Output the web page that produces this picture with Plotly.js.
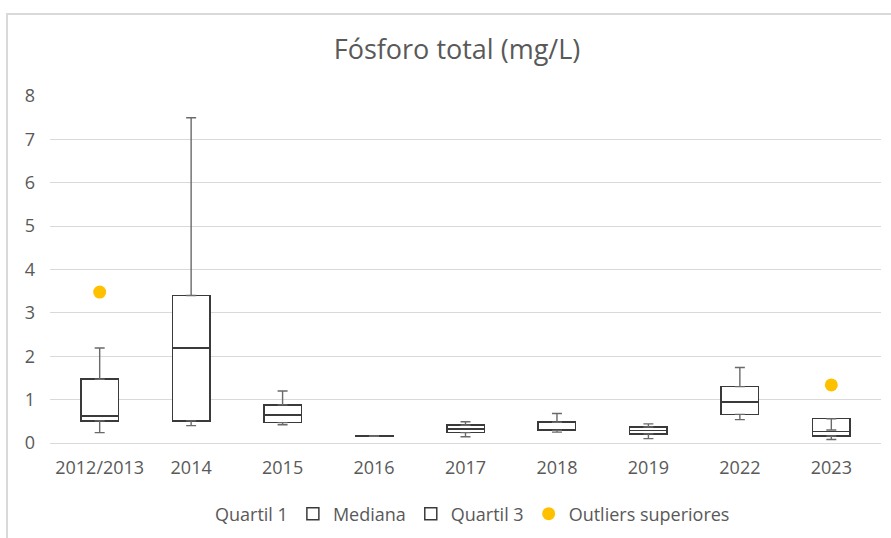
<!DOCTYPE html>
<html>
<head>
<meta charset="utf-8">
<script src="https://cdn.plot.ly/plotly-3.0.1.min.js"></script>
<style>
  html, body { margin: 0; padding: 0; background: #fff; overflow: hidden; }
  #chart { width: 891px; height: 538px; position: absolute; left: 0; top: 0; }
  #frame { position: absolute; left: 6px; top: 13px; width: 1000px; height: 1000px;
           border-left: 2px solid #d9d9d9; border-top: 2px solid #d9d9d9; pointer-events: none; }
</style>
</head>
<body>
<div id="chart"></div>
<div id="frame"></div>
<script>
const categories = ['2012/2013', '2014', '2015', '2016', '2017', '2018', '2019', '2022', '2023'];
const minimo   = [0.24, 0.40, 0.42, 0.155, 0.145, 0.25, 0.10, 0.54, 0.08];
const quartil1 = [0.51, 0.51, 0.47, 0.155, 0.24, 0.29, 0.21, 0.66, 0.16];
const mediana  = [0.62, 2.19, 0.645, 0.16, 0.32, 0.30, 0.29, 0.94, 0.27];
const quartil3 = [1.47, 3.40, 0.88, 0.165, 0.41, 0.48, 0.37, 1.30, 0.56];
const maximo   = [2.19, 7.50, 1.20, 0.165, 0.49, 0.68, 0.44, 1.74, 0.30];
const outliers = [3.48, null, null, null, null, null, null, null, 1.34];

const textColor = '#595959';
const boxLine = {color: '#3a3a3a', width: 1.5};
const font = 'Open Sans, sans-serif';

const medSeg = mediana.map((m, i) => m - quartil1[i]);
const q3Seg = quartil3.map((q, i) => q - mediana[i]);

const traces = [
  {
    type: 'bar', name: 'Quartil 1', x: categories, y: quartil1,
    marker: {color: 'rgba(0,0,0,0)', line: {width: 0}},
    hoverinfo: 'skip'
  },
  {
    type: 'bar', name: 'Mediana', x: categories, y: medSeg,
    marker: {color: '#ffffff', line: boxLine}
  },
  {
    type: 'bar', name: 'Quartil 3', x: categories, y: q3Seg,
    marker: {color: '#ffffff', line: boxLine}
  },
  {
    type: 'scatter', mode: 'markers', x: categories, y: quartil3, showlegend: false,
    marker: {size: 1, color: 'rgba(0,0,0,0)'}, hoverinfo: 'skip',
    error_y: {
      type: 'data', symmetric: false,
      array: maximo.map((m, i) => Math.max(0, m - quartil3[i])),
      arrayminus: maximo.map((m, i) => Math.max(0, quartil3[i] - m)),
      color: '#6a6a6a', thickness: 1.4, width: 5
    }
  },
  {
    type: 'scatter', mode: 'markers', x: categories, y: quartil1, showlegend: false,
    marker: {size: 1, color: 'rgba(0,0,0,0)'}, hoverinfo: 'skip',
    error_y: {
      type: 'data', symmetric: false,
      array: quartil1.map(() => 0),
      arrayminus: minimo.map((m, i) => Math.max(0, quartil1[i] - m)),
      color: '#6a6a6a', thickness: 1.4, width: 5
    }
  },
  {
    type: 'scatter', mode: 'markers', name: 'Outliers superiores', x: categories, y: outliers,
    marker: {size: 13, color: '#FFC000'}
  }
];

const layout = {
  width: 891, height: 538,
  margin: {l: 50, r: 10, t: 96, b: 95},
  paper_bgcolor: '#ffffff', plot_bgcolor: '#ffffff',
  barmode: 'stack', bargap: 0.59,
  font: {family: font, color: textColor, size: 18},
  title: {
    text: 'Fósforo total (mg/L)',
    font: {family: font, size: 27, color: textColor},
    x: 457 / 891, xanchor: 'center', xref: 'container',
    y: 1 - 50 / 538, yanchor: 'middle', yref: 'container'
  },
  xaxis: {
    type: 'category', showgrid: false, zeroline: false, showline: false,
    ticks: '', tickfont: {size: 18, color: textColor}, ticklabelstandoff: 12
  },
  yaxis: {
    range: [0, 8], dtick: 1, tick0: 0, showgrid: true, gridcolor: '#d9d9d9', gridwidth: 1,
    zeroline: true, zerolinecolor: '#d9d9d9', zerolinewidth: 1, showline: false,
    ticks: '', tickfont: {size: 18, color: textColor}, ticklabelstandoff: 14
  },
  showlegend: true,
  legend: {
    orientation: 'h', x: 455 / 891, xanchor: 'center', xref: 'container',
    y: 1 - 514 / 538, yanchor: 'middle', yref: 'container',
    font: {size: 18, color: textColor}, traceorder: 'normal',
    itemwidth: 30, bgcolor: 'rgba(0,0,0,0)'
  }
};

Plotly.newPlot('chart', traces, layout, {displayModeBar: false, staticPlot: true});
</script>
</body>
</html>
